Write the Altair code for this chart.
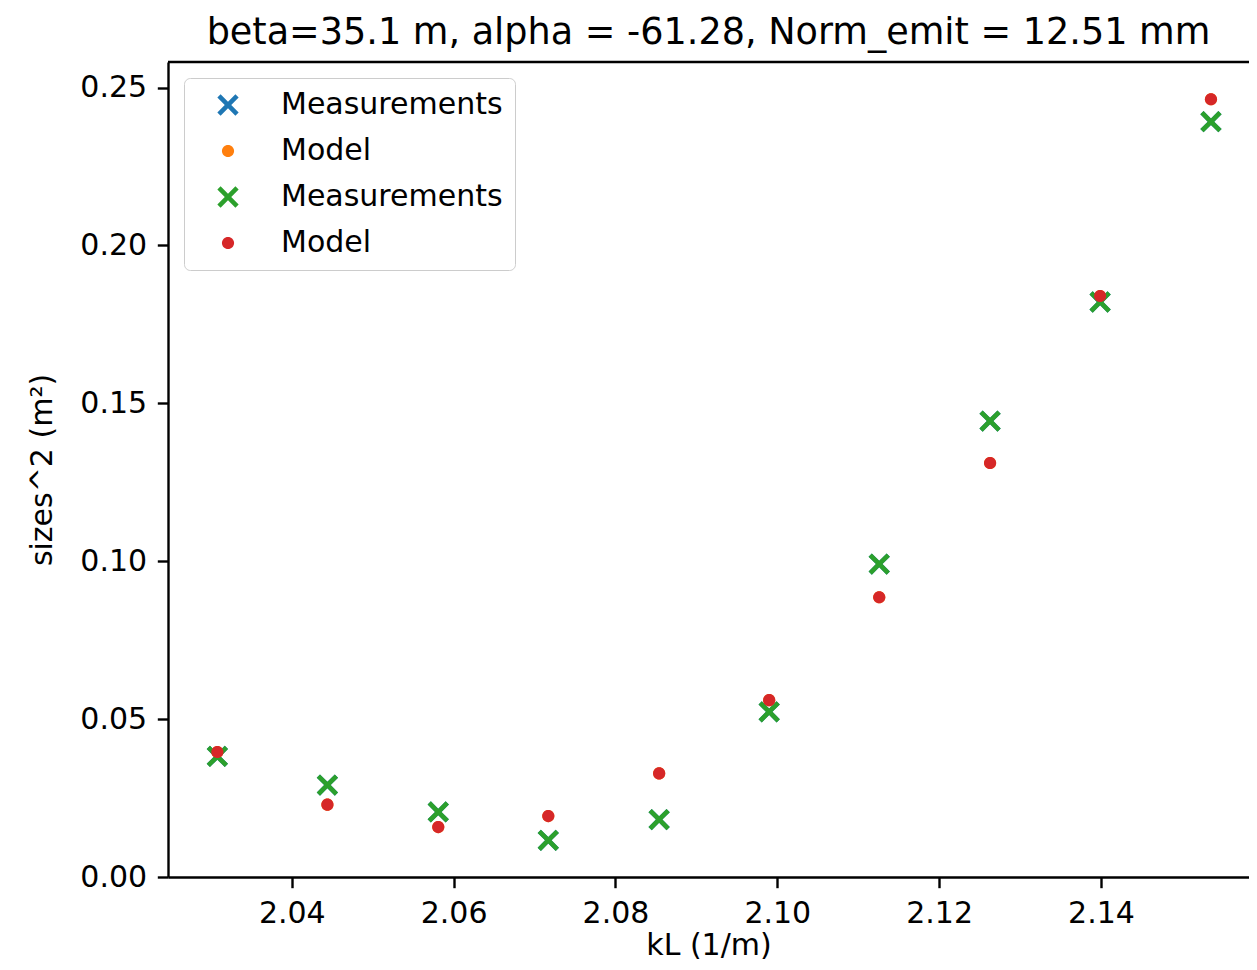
import altair as alt
import pandas as pd

# ---- data ----
kl_values = [2.0308, 2.0444, 2.0581, 2.0717, 2.0854, 2.0990, 2.1126, 2.1263, 2.1399, 2.1536]
meas_values = [0.0382, 0.0291, 0.0206, 0.0116, 0.0182, 0.0523, 0.0991, 0.1444, 0.1821, 0.2392]
model_values = [0.0396, 0.0229, 0.0158, 0.0193, 0.0328, 0.0560, 0.0886, 0.1311, 0.1840, 0.2463]

series_names = ["Measurements", "Model", "Measurements ", "Model "]
series_colors = ["#1f77b4", "#ff7f0e", "#2ca02c", "#d62728"]
x_ticks = [2.04, 2.06, 2.08, 2.10, 2.12, 2.14]
y_ticks = [0.00, 0.05, 0.10, 0.15, 0.20, 0.25]

title_text = "beta=35.1 m, alpha = -61.28, Norm_emit = 12.51 mm"

# marker shapes (filled X polygon and a small filled circle)
X_PATH = ("M-1,-0.695L-0.695,-1L0,-0.305L0.695,-1L1,-0.695L0.305,0L1,0.695"
          "L0.695,1L0,0.305L-0.695,1L-1,0.695L-0.305,0Z")
DOT_PATH = "M-0.57,0A0.57,0.57 0 1,0 0.57,0A0.57,0.57 0 1,0 -0.57,0Z"
series_shapes = [X_PATH, DOT_PATH, X_PATH, DOT_PATH]

rows = []
for name, vals in zip(series_names, [meas_values, model_values, meas_values, model_values]):
    for k, v in zip(kl_values, vals):
        rows.append({"kL": k, "val": v, "series": name})
df = pd.DataFrame(rows)

W, H = 1081, 815
FONT = "DejaVu Sans"

legend = alt.Legend(
    title=None, orient="none", legendX=16, legendY=16, padding=12,
    symbolSize=454, symbolOffset=17, labelOffset=38, symbolStrokeWidth=0,
    symbolOpacity=1, labelFontSize=30, labelFont=FONT, labelColor="black",
    labelLimit=500, rowPadding=16, strokeColor="#cccccc",
    fillColor="rgba(255,255,255,0.8)", cornerRadius=6,
)

x_axis = alt.Axis(
    values=x_ticks, format=".2f", title="kL (1/m)", grid=False,
    domainColor="black", domainWidth=2.4, tickColor="black", tickWidth=2.4,
    tickSize=10.7, labelFontSize=30, labelFont=FONT, labelColor="black",
    labelPadding=10.7, titleFontSize=30, titleFont=FONT, titleColor="black",
    titleFontWeight="normal", titleBaseline="alphabetic", titleY=77,
)
y_axis = alt.Axis(
    values=y_ticks, format=".2f", title="sizes^2 (m²)", grid=False,
    domainColor="black", domainWidth=2.4, tickColor="black", tickWidth=2.4,
    tickSize=10.7, labelFontSize=30, labelFont=FONT, labelColor="black",
    labelPadding=10.7, titleFontSize=30, titleFont=FONT, titleColor="black",
    titleFontWeight="normal", titlePadding=22,
)

points = alt.Chart(df).mark_point(
    filled=True, size=454, opacity=1, strokeWidth=0
).encode(
    x=alt.X("kL:Q", scale=alt.Scale(domain=[2.0247, 2.1583], nice=False, zero=False), axis=x_axis),
    y=alt.Y("val:Q", scale=alt.Scale(domain=[0, 0.2581], nice=False, zero=False), axis=y_axis),
    color=alt.Color("series:N", scale=alt.Scale(domain=series_names, range=series_colors), legend=legend),
    shape=alt.Shape("series:N", scale=alt.Scale(domain=series_names, range=series_shapes), legend=legend),
)

top_spine = alt.Chart(pd.DataFrame({"a": [0]})).mark_rule(
    color="black", strokeWidth=2.4
).encode(x=alt.value(0), x2=alt.value(W), y=alt.value(0))

chart = alt.layer(points, top_spine).properties(
    width=W, height=H,
    title=alt.TitleParams(
        title_text, fontSize=36.6, font=FONT, fontWeight="normal",
        color="black", anchor="middle", offset=9,
    ),
    autosize=alt.AutoSizeParams(type="none"),
    padding={"left": 160, "top": 54, "right": 0, "bottom": 85},
).configure_view(stroke=None).configure(background="white")

chart.save("out.html", embed_options={"renderer": "svg", "actions": False})
